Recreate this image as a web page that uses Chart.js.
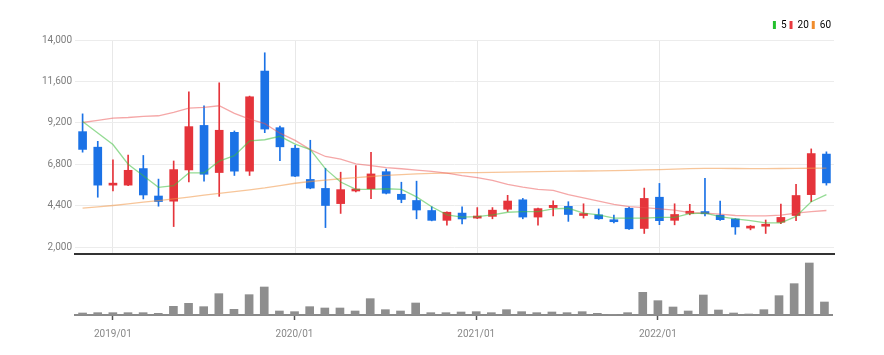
<!DOCTYPE html>
<html>
<head>
<meta charset="utf-8">
<script src="https://cdn.jsdelivr.net/npm/chart.js@4.4.1/dist/chart.umd.min.js"></script>
<style>
  html, body { margin: 0; padding: 0; background: #fff; }
  #wrap { position: relative; width: 884px; height: 355px; }
  #priceBox { position: absolute; left: 0; top: 0; width: 884px; height: 263px; }
  #volBox { position: absolute; left: 0; top: 257px; width: 884px; height: 98px; }
</style>
</head>
<body>
<div id="wrap">
  <div id="priceBox"><canvas id="priceChart"></canvas></div>
  <div id="volBox"><canvas id="volChart"></canvas></div>
</div>
<script>
// monthly candles, 2018/11 - 2022/12
const months = [
  '2018/11', '2018/12',
  '2019/01', '2019/02', '2019/03', '2019/04', '2019/05', '2019/06', '2019/07', '2019/08', '2019/09', '2019/10', '2019/11', '2019/12',
  '2020/01', '2020/02', '2020/03', '2020/04', '2020/05', '2020/06', '2020/07', '2020/08', '2020/09', '2020/10', '2020/11', '2020/12',
  '2021/01', '2021/02', '2021/03', '2021/04', '2021/05', '2021/06', '2021/07', '2021/08', '2021/09', '2021/10', '2021/11', '2021/12',
  '2022/01', '2022/02', '2022/03', '2022/04', '2022/05', '2022/06', '2022/07', '2022/08', '2022/09', '2022/10', '2022/11', '2022/12',
]
const opens = [8690, 7790, 5590, 5590, 6550, 4960, 4660, 6470, 9050, 6320, 8650, 6400, 12200, 8920, 7730, 5920, 5400, 4520, 5250, 5380,
  6370, 5060, 4700, 4120, 3550, 3970, 3680, 3780, 4190, 4740, 3740, 4290, 4360, 3830, 3870, 3570, 4250, 3080, 4890, 3550,
  3950, 4060, 3850, 3630, 3100, 3210, 3440, 3830, 5040, 7390]
const highs = [9720, 8130, 7050, 7330, 7310, 5940, 6990, 11000, 10180, 11520, 8730, 10750, 13260, 9010, 7900, 8190, 6570, 6340, 6720, 7490,
  6520, 5760, 5820, 4340, 4050, 4340, 4290, 4290, 5000, 4820, 4260, 4680, 4630, 4510, 4210, 3850, 4320, 5420, 5690, 4510,
  4480, 5990, 4670, 3650, 3250, 3570, 4490, 5630, 7690, 7520]
const lows = [7500, 4890, 5250, 5560, 4790, 4370, 3190, 5780, 5820, 4940, 6150, 6150, 8630, 7010, 6080, 5380, 3130, 3950, 5200, 4810,
  5080, 4570, 3640, 3520, 3270, 3340, 3650, 3640, 4060, 3640, 3270, 3810, 3490, 3680, 3610, 3400, 3020, 2790, 3300, 3290,
  3870, 3810, 3550, 2740, 3000, 2790, 3360, 3530, 4630, 5590]
const closes = [7660, 5590, 5690, 6450, 5020, 4640, 6490, 8980, 6220, 8770, 6400, 10710, 8840, 7810, 6110, 5420, 4410, 5330, 5360, 6240,
  5120, 4760, 4150, 3550, 4020, 3630, 3800, 4140, 4670, 3740, 4230, 4420, 3890, 3910, 3640, 3470, 3060, 4820, 3530, 3890,
  4080, 3930, 3590, 3170, 3170, 3300, 3720, 4990, 7420, 5720]
const volumes = [60, 70, 70, 70, 70, 50, 260, 350, 250, 640, 170, 610, 840, 120, 100, 250, 210, 210, 120, 490,
  160, 120, 360, 70, 70, 90, 100, 70, 160, 100, 70, 90, 70, 100, 50, 20, 70, 680, 430, 240,
  120, 600, 150, 60, 30, 160, 580, 940, 1560, 390]

// moving averages as drawn
const ma5 = [9280, 8610, 7940, 6800, 6130, 5460, 5560, 6300, 6300, 6980, 7300, 8150, 8220, 8420, 7970, 7650, 6530, 5770, 5340, 5340,
  5380, 5340, 4910, 4340, 3870, 3740, 3760, 3870, 4020, 4060, 4060, 4220, 4250, 3970, 3870, 3680, 3680, 3680, 3720, 3720,
  3940, 3970, 3760, 3640, 3530, 3400, 3400, 3780, 4630, 5040]
const ma20 = [9220, 9340, 9470, 9510, 9570, 9610, 9800, 10050, 10100, 10190, 9750, 9420, 9150, 8600, 8180, 7650, 7250, 7100, 6820, 6720,
  6610, 6540, 6460, 6390, 6290, 6140, 6030, 5860, 5630, 5480, 5350, 5290, 5040, 4850, 4670, 4480, 4340, 4290, 4210, 4140,
  4000, 3970, 3910, 3830, 3810, 3810, 3850, 3970, 4060, 4120]
const ma60 = [4260, 4330, 4410, 4500, 4600, 4690, 4790, 4900, 5010, 5110, 5210, 5320, 5430, 5560, 5700, 5800, 5880, 5960, 6030, 6090,
  6150, 6200, 6240, 6270, 6290, 6310, 6320, 6330, 6340, 6355, 6370, 6385, 6400, 6410, 6420, 6435, 6450, 6470, 6490, 6520,
  6550, 6560, 6560, 6555, 6550, 6550, 6555, 6560, 6570, 6580]

const maNames = ['5', '20', '60']
const priceTicks = [2000, 4400, 6800, 9200, 11600, 14000]

const UP = '#e5343b'
const DOWN = '#1b72e6'
const maLine = ['rgba(60, 190, 60, 0.55)', 'rgba(235, 80, 80, 0.5)', 'rgba(240, 150, 70, 0.55)']
const maBox = ['#22c02c', '#e83a3f', '#f08c2c']

Chart.defaults.font.family = "'Liberation Sans Narrow', Roboto, sans-serif"
Chart.defaults.font.size = 10
Chart.defaults.color = '#7a7a7a'
Chart.defaults.animation = false

const isJan = (i) => months[i] && months[i].endsWith('/01')
const candleColor = (ctx) => (closes[ctx.dataIndex] >= opens[ctx.dataIndex] ? UP : DOWN)

const wicks = lows.map((l, i) => [l, highs[i]])
const bodies = opens.map((o, i) => [o, closes[i]])

const maSets = [ma5, ma20, ma60].map((d, i) => ({
  type: 'line',
  label: maNames[i],
  data: d,
  borderColor: maLine[i],
  backgroundColor: maBox[i],
  borderWidth: 1.3,
  pointRadius: 0,
  tension: 0,
  order: 0,
}))

new Chart(document.getElementById('priceChart'), {
  type: 'bar',
  data: {
    labels: months,
    datasets: [
      { label: 'wick', data: wicks, backgroundColor: candleColor, barThickness: 1, grouped: false, order: 2 },
      { label: 'body', data: bodies, backgroundColor: candleColor, barThickness: 8, minBarLength: 2, grouped: false, order: 1 },
      ...maSets,
    ],
  },
  options: {
    responsive: true,
    maintainAspectRatio: false,
    layout: { padding: { left: 0, right: 50, top: 17, bottom: 0 } },
    plugins: {
      tooltip: { enabled: false },
      legend: {
        position: 'top',
        align: 'end',
        labels: {
          boxWidth: 3,
          boxHeight: 8,
          padding: 3,
          color: '#555',
          font: { size: 10 },
          generateLabels: () =>
            maNames.map((n, i) => ({
              text: n,
              fillStyle: maBox[i],
              strokeStyle: maBox[i],
              lineWidth: 0,
              hidden: false,
              datasetIndex: i + 2,
            })),
        },
      },
    },
    scales: {
      x: {
        offset: true,
        grid: {
          offset: false,
          drawTicks: false,
          color: (ctx) => (isJan(ctx.index) ? '#e8e8e8' : 'rgba(0,0,0,0)'),
        },
        ticks: { display: false },
        border: { color: '#333', width: 2 },
        afterFit: (scale) => { scale.height = 3 },
      },
      y: {
        min: 1600,
        max: 14000,
        afterBuildTicks: (scale) => { scale.ticks = priceTicks.map((v) => ({ value: v })) },
        grid: { color: '#ececec', drawTicks: false },
        border: { display: false },
        ticks: {
          padding: 3,
          color: '#7d7d7d',
          callback: (v) => v.toLocaleString('en-US'),
        },
        afterFit: (scale) => { scale.width = 75 },
      },
    },
  },
})

new Chart(document.getElementById('volChart'), {
  type: 'bar',
  data: {
    labels: months,
    datasets: [
      { label: 'volume', data: volumes, backgroundColor: '#8e8e8e', barThickness: 8 },
    ],
  },
  options: {
    responsive: true,
    maintainAspectRatio: false,
    layout: { padding: { left: 75, right: 52, top: 0, bottom: 0 } },
    plugins: { legend: { display: false }, tooltip: { enabled: false } },
    scales: {
      x: {
        offset: true,
        grid: {
          offset: false,
          drawOnChartArea: false,
          tickLength: 5,
          tickWidth: 1.5,
          tickColor: (ctx) => (isJan(ctx.index) ? '#555' : 'rgba(0,0,0,0)'),
        },
        border: { color: '#8a8a8a', width: 2 },
        ticks: {
          autoSkip: false,
          maxRotation: 0,
          padding: 8,
          color: '#888',
          callback: (v, i) => (isJan(i) ? months[i] : ''),
        },
        afterFit: (scale) => { scale.height = 40 },
      },
      y: { display: false, min: 0, max: 1740 },
    },
  },
})
</script>
</body>
</html>
